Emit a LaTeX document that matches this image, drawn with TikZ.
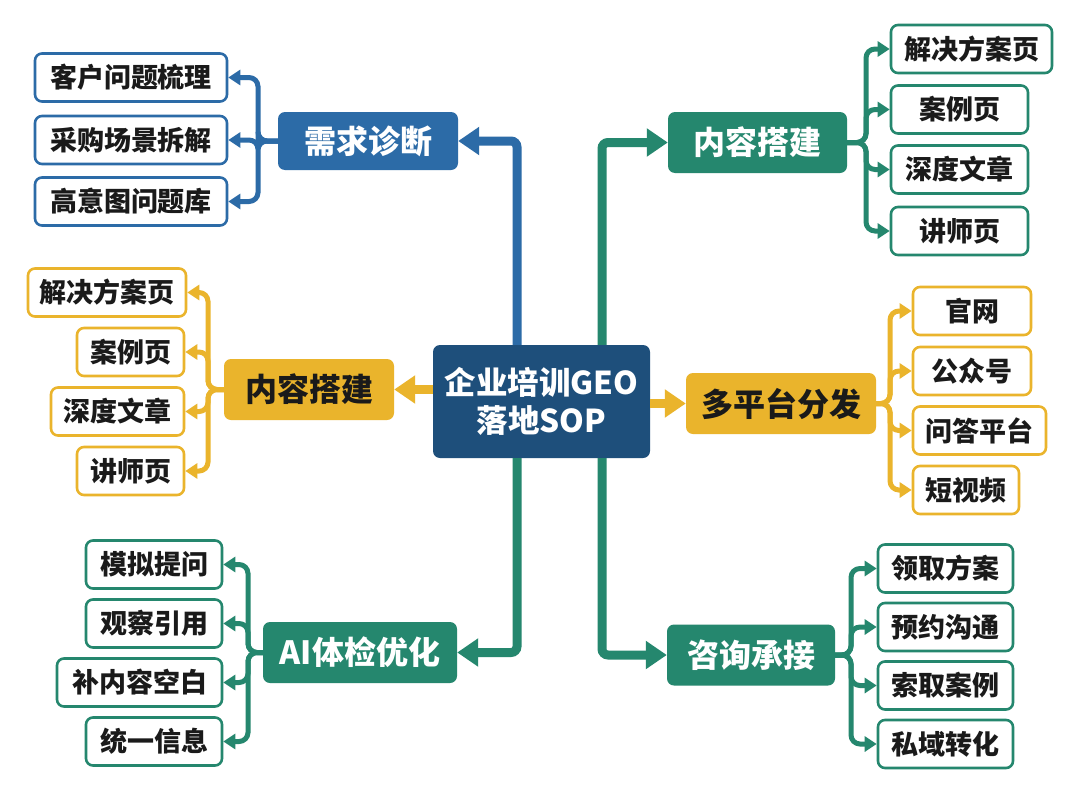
\documentclass[tikz,border=0pt]{standalone}
\usepackage{fontspec}
\setmainfont{Noto Sans CJK SC}
\usetikzlibrary{arrows.meta}
\definecolor{cnavy}{HTML}{1E4F7B}
\definecolor{cblue}{HTML}{2C6BA7}
\definecolor{cgreen}{HTML}{25876E}
\definecolor{cyellow}{HTML}{EAB42C}
\definecolor{ctext}{HTML}{1A1A1A}
\tikzset{
  leaf/.style={draw=#1, line width=2.6pt, fill=white, rounded corners=7pt, minimum height=48pt, inner sep=0pt, font=\fontsize{27pt}{30pt}\selectfont\bfseries, text=ctext},
  hub/.style={fill=#1, rounded corners=7pt, minimum height=61pt, inner sep=0pt, font=\fontsize{32pt}{36pt}\selectfont\bfseries, text=white},
  main/.style={draw=#1, line width=9pt, rounded corners=6pt, -{Triangle[length=21pt,width=27pt]}},
  sub/.style={draw=#1, line width=5pt, rounded corners=9pt, -{Triangle[length=12pt,width=15pt]}},
}
\begin{document}
\begin{tikzpicture}[x=1pt,y=-1pt]
\useasboundingbox[fill=white] (0,0) rectangle (1080,806);

% center
\node[hub=cnavy, minimum width=217pt, minimum height=113pt, align=center, font=\fontsize{31.5pt}{38pt}\selectfont\bfseries] (c) at (541.5,401.5) {企业培训GEO\\落地SOP};

% blue branch
\node[hub=cblue, minimum width=180pt, minimum height=58pt] (d) at (368,141) {需求诊断};
\node[leaf=cblue, minimum width=192pt] (d1) at (131,77.5) {客户问题梳理};
\node[leaf=cblue, minimum width=192pt] (d2) at (131,140) {采购场景拆解};
\node[leaf=cblue, minimum width=192pt] (d3) at (131,201.5) {高意图问题库};
\coordinate (dB) at (258,141);

% green top right
\node[hub=cgreen, minimum width=179pt] (n) at (757.5,142.5) {内容搭建};
\node[leaf=cgreen, minimum width=161pt] (n1) at (971.5,49) {解决方案页};
\node[leaf=cgreen, minimum width=137pt] (n2) at (959.5,109.5) {案例页};
\node[leaf=cgreen, minimum width=137pt] (n3) at (959.5,169.5) {深度文章};
\node[leaf=cgreen, minimum width=137pt] (n4) at (959.5,231) {讲师页};
\coordinate (nB) at (866,142.5);

% yellow left
\node[hub=cyellow, text=ctext, minimum width=170pt] (y) at (309,389.5) {内容搭建};
\node[leaf=cyellow, minimum width=158pt] (y1) at (107,292.5) {解决方案页};
\node[leaf=cyellow, minimum width=107pt] (y2) at (130.5,352) {案例页};
\node[leaf=cyellow, minimum width=133pt] (y3) at (117.5,411.5) {深度文章};
\node[leaf=cyellow, minimum width=107pt] (y4) at (130.5,471) {讲师页};
\coordinate (yB) at (208,389.5);

% yellow right
\node[hub=cyellow, text=ctext, minimum width=190pt] (m) at (781,403.5) {多平台分发};
\node[leaf=cyellow, minimum width=118pt] (m1) at (972,311) {官网};
\node[leaf=cyellow, minimum width=118pt] (m2) at (972,371) {公众号};
\node[leaf=cyellow, minimum width=133pt] (m3) at (979.5,430.5) {问答平台};
\node[leaf=cyellow, minimum width=106pt] (m4) at (966,490) {短视频};
\coordinate (mB) at (890,403.5);

% green bottom right
\node[hub=cgreen, minimum width=168pt] (z) at (751,655) {咨询承接};
\node[leaf=cgreen, minimum width=135pt] (z1) at (945.5,568.5) {领取方案};
\node[leaf=cgreen, minimum width=135pt] (z2) at (945.5,627) {预约沟通};
\node[leaf=cgreen, minimum width=135pt] (z3) at (945.5,685.5) {索取案例};
\node[leaf=cgreen, minimum width=135pt] (z4) at (945.5,744) {私域转化};
\coordinate (zB) at (851,655);

% green bottom left
\node[hub=cgreen, minimum width=194pt] (a) at (360,652.5) {AI体检优化};
\node[leaf=cgreen, minimum width=136pt] (a1) at (154,564.5) {模拟提问};
\node[leaf=cgreen, minimum width=136pt] (a2) at (154,623.5) {观察引用};
\node[leaf=cgreen, minimum width=165pt] (a3) at (139.5,682.5) {补内容空白};
\node[leaf=cgreen, minimum width=136pt] (a4) at (154,741.5) {统一信息};
\coordinate (aB) at (248,652.5);

% main connectors
\draw[main=cblue] ([xshift=-24.5pt]c.north) |- (d.east);
\draw[main=cgreen] ([xshift=60.5pt]c.north) |- (n.west);
\draw[main=cgreen] ([xshift=-24.5pt]c.south) |- (a.east);
\draw[main=cgreen] ([xshift=60.5pt]c.south) |- (z.west);
\draw[main=cyellow] (c.west |- y.east) -- (y.east);
\draw[main=cyellow] (c.east |- m.west) -- (m.west);

% sub connectors
\foreach \k in {1,2,3} {\draw[sub=cblue] (d.west) -- (dB) |- (d\k.east);}
\foreach \k in {1,2,3,4} {
  \draw[sub=cgreen] (n.east) -- (nB) |- (n\k.west);
  \draw[sub=cyellow] (y.west) -- (yB) |- (y\k.east);
  \draw[sub=cyellow] (m.east) -- (mB) |- (m\k.west);
  \draw[sub=cgreen] (z.east) -- (zB) |- (z\k.west);
  \draw[sub=cgreen] (a.west) -- (aB) |- (a\k.east);
}
\end{tikzpicture}
\end{document}
